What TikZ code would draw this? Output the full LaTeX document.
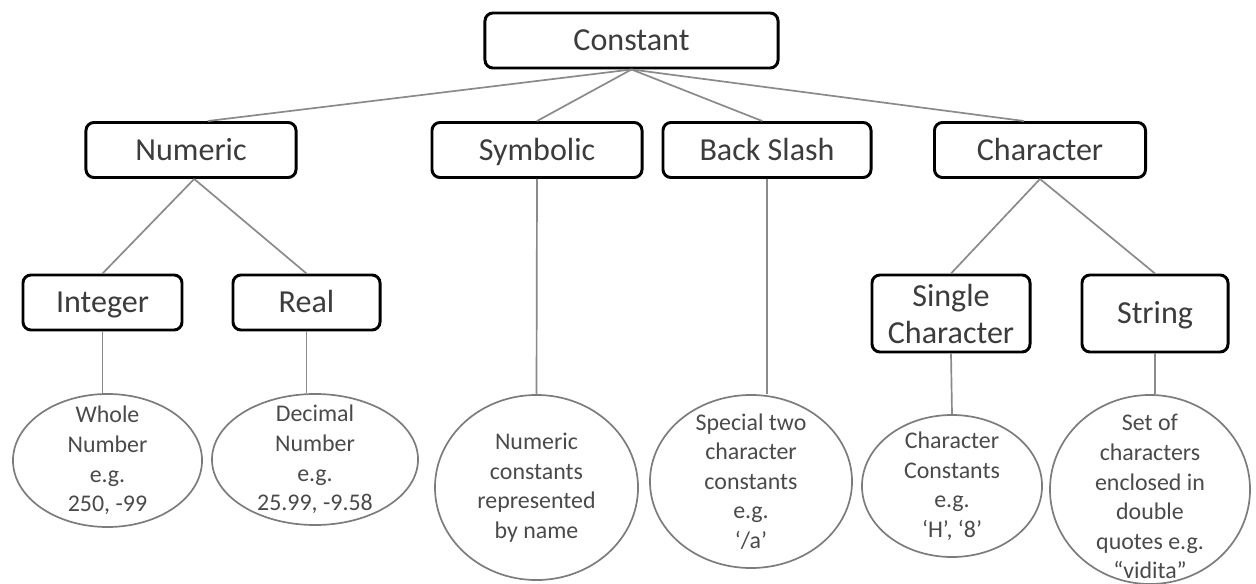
\documentclass[tikz,border=0pt]{standalone}
\usepackage{fontspec}
\setmainfont{Carlito}
\usetikzlibrary{shapes.geometric}
\definecolor{boxtext}{HTML}{3C3C3C}
\definecolor{ovaltext}{HTML}{4A4A4A}
\definecolor{ovalline}{HTML}{7C7C7C}
\definecolor{linkgray}{HTML}{8A8A8A}

\begin{document}
\begin{tikzpicture}[x=0.025cm,y=-0.025cm,
  box/.style={draw=black,line width=2.1pt,rounded corners=0.2cm,minimum height=1.375cm,inner sep=0pt,align=center,text=boxtext,font=\fontsize{22.8}{26.3}\selectfont},
  onebox/.style={box,text height=0.6cm,text depth=0.085cm},
  oval/.style={ellipse,draw=ovalline,line width=1.2pt,inner sep=0pt},
  otext/.style={align=center,text=ovaltext,font=\fontsize{17}{21}\selectfont},
  link/.style={draw=linkgray,line width=1.2pt}]
  \useasboundingbox[fill=white] (0,0) rectangle (1256,584);
  \node[onebox,minimum width=7.325cm] (const) at (631.5,40.5) {Constant};
  \node[onebox,minimum width=5.25cm] (numeric) at (191,150) {Numeric};
  \node[onebox,minimum width=5.25cm] (symbolic) at (537,150) {Symbolic};
  \node[onebox,minimum width=5.2cm] (backslash) at (767,150) {Back Slash};
  \node[onebox,minimum width=5.275cm] (character) at (1040,150) {Character};
  \node[onebox,minimum width=3.975cm] (integer) at (102.5,302.5) {Integer};
  \node[onebox,minimum width=3.675cm] (real) at (306.5,302.5) {Real};
  \node[box,minimum width=3.95cm,minimum height=1.925cm] (single) at (951,313.5) {Single\\Character};
  \node[onebox,minimum width=3.65cm,minimum height=1.925cm] (string) at (1155,313.5) {String};
  \node[oval,minimum width=4.725cm,minimum height=3.325cm,label={[otext]center:{Whole\\Number\\e.g.\\250, -99}}] (whole) at (107.5,460.5) {};
  \node[oval,minimum width=5.15cm,minimum height=3.275cm,label={[otext]center:{Decimal\\Number\\e.g.\\25.99, -9.58}}] (decimal) at (315,459.5) {};
  \node[oval,minimum width=5.075cm,minimum height=4.625cm,label={[otext]center:{Numeric\\constants\\represented\\by name}}] (byname) at (536.5,487.5) {};
  \node[oval,minimum width=5.05cm,minimum height=4.325cm,label={[otext]center:{Special two\\character\\constants\\e.g.\\‘/a’}}] (special) at (751,481.5) {};
  \node[oval,minimum width=4.5cm,minimum height=3.55cm,label={[otext]center:{Character\\Constants\\e.g.\\‘H’, ‘8’}}] (charconst) at (952,486) {};
  \node[oval,minimum width=5cm,minimum height=4.725cm,label={[otext,yshift=-0.18cm]center:{Set of\\characters\\enclosed in\\double\\quotes e.g.\\“vidita”}}] (quoted) at (1150,489.5) {};
  \draw[link] (const.south) -- ([xshift=0.42cm]numeric.north);
  \draw[link] (const.south) -- (symbolic.north);
  \draw[link] (const.south) -- ([xshift=-0.12cm]backslash.north);
  \draw[link] (const.south) -- ([xshift=-0.4cm]character.north);
  \draw[link] ([xshift=0.08cm]numeric.south) -- (integer.north);
  \draw[link] ([xshift=0.08cm]numeric.south) -- (real.north);
  \draw[link] (character.south) -- (single.north);
  \draw[link] (character.south) -- (string.north);
  \draw[link] (integer.south) -- (integer.south |- whole.north);
  \draw[link] (real.south) -- (real.south |- decimal.north);
  \draw[link] (symbolic.south) -- (byname.north);
  \draw[link] (backslash.south) -- (backslash.south |- special.north);
  \draw[link] (single.south) -- (charconst.north);
  \draw[link] (string.south) -- (string.south |- quoted.north);
\end{tikzpicture}
\end{document}
